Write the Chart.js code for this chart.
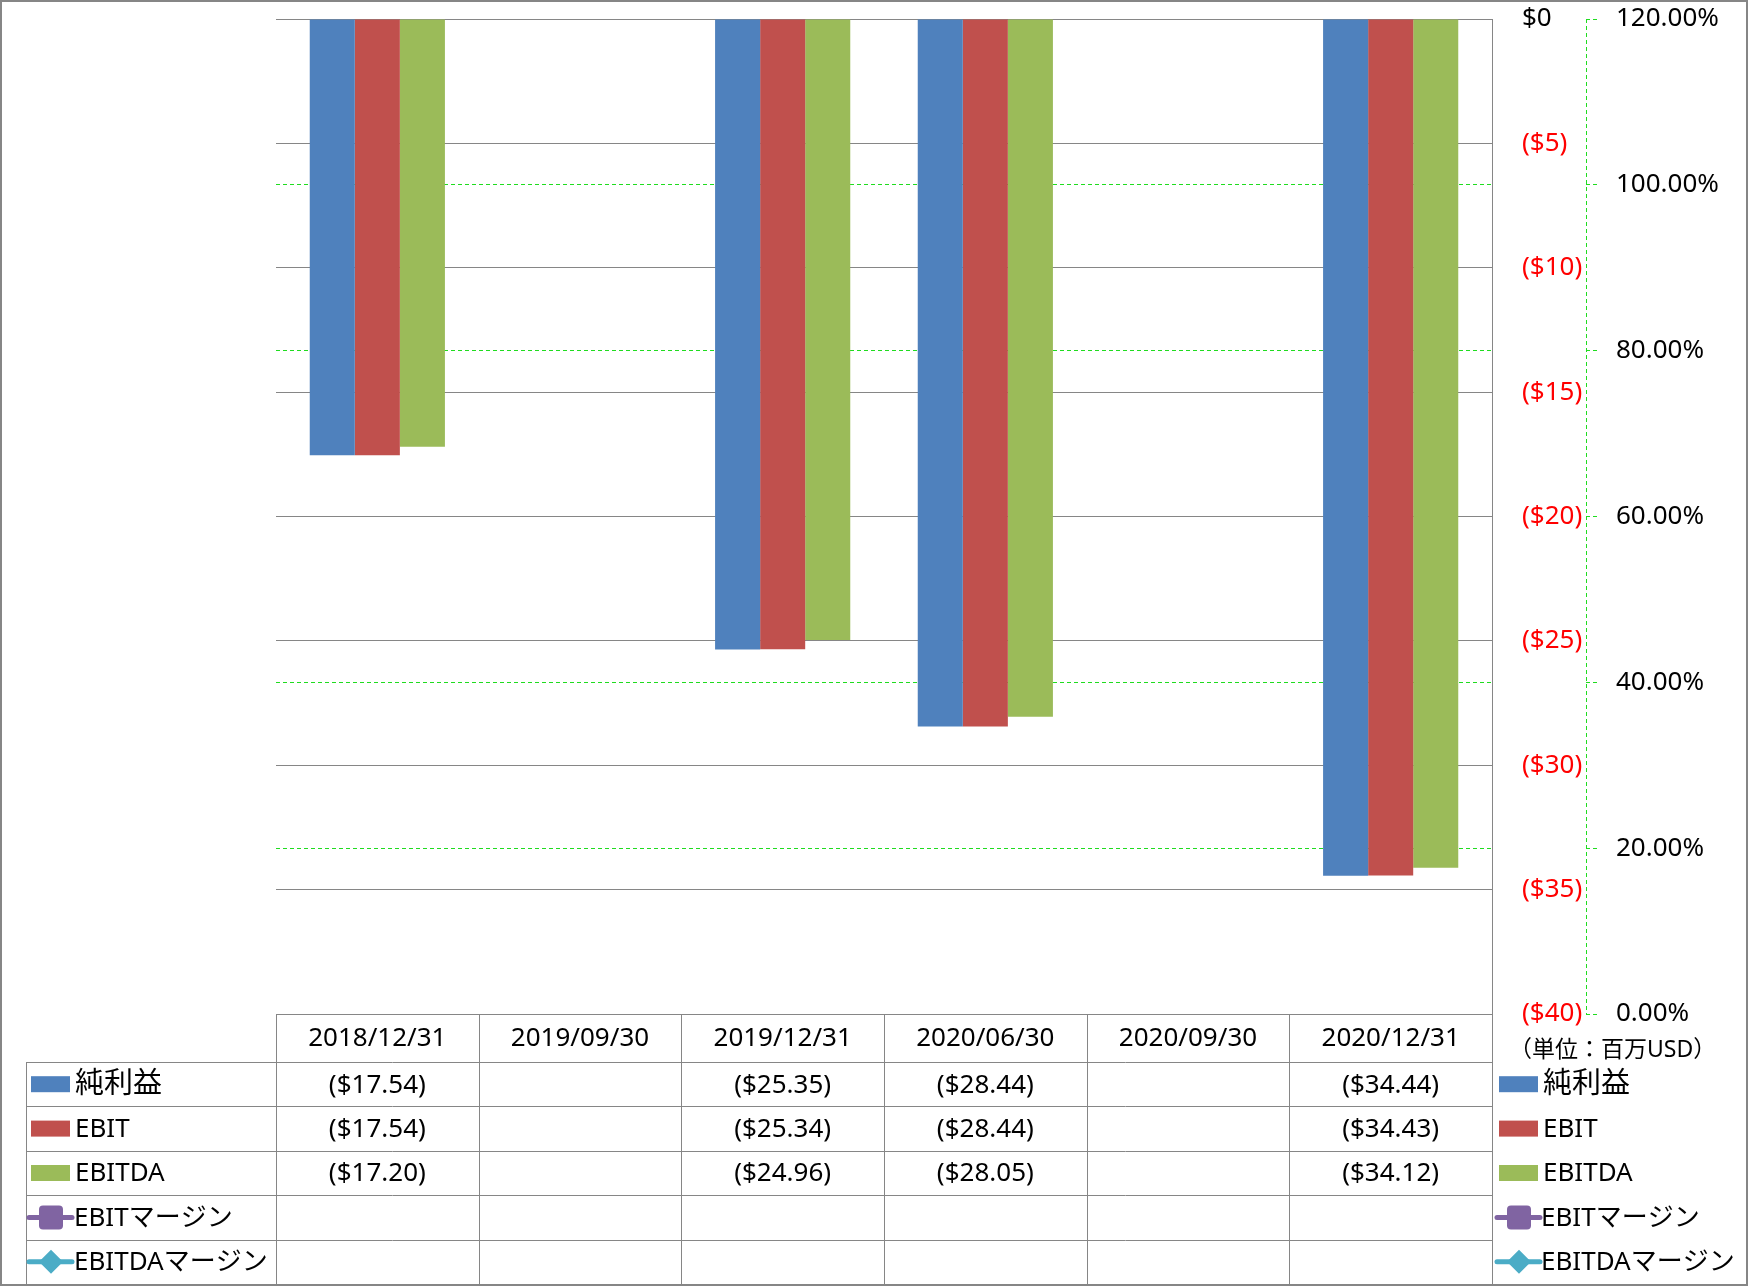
<!DOCTYPE html>
<html>
<head>
<meta charset="utf-8">
<title>純利益 / EBIT / EBITDA</title>
<script src="https://cdn.jsdelivr.net/npm/chart.js@4.4.0/dist/chart.umd.min.js"></script>
<style>
  html, body { margin: 0; padding: 0; background: #fff; }
  canvas { display: block; }
</style>
</head>
<body>
<canvas id="chart" width="1748" height="1286"></canvas>
<script>
// データ（単位：百万USD）
const periods = ['2018/12/31', '2019/09/30', '2019/12/31', '2020/06/30', '2020/09/30', '2020/12/31'];
const netIncome = [-17.54, null, -25.35, -28.44, null, -34.44];
const ebit = [-17.54, null, -25.34, -28.44, null, -34.43];
const ebitda = [-17.20, null, -24.96, -28.05, null, -34.12];
const ebitMargin = [null, null, null, null, null, null];
const ebitdaMargin = [null, null, null, null, null, null];
const seriesNames = ['純利益', 'EBIT', 'EBITDA', 'EBITマージン', 'EBITDAマージン'];
const unitLabel = '（単位：百万USD）';

const FONT = "'Noto Sans', 'Noto Sans CJK JP', sans-serif";
const GRID_GREY = '#868686';
const GREEN = '#1fdc1f';

Chart.defaults.font.family = FONT;
Chart.defaults.font.size = 26;
Chart.defaults.color = '#000';

const fmtUsd = v => {
  if (v === null || v === undefined) return '';
  return v < 0 ? '($' + Math.abs(v).toFixed(2) + ')' : '$' + v.toFixed(2);
};

// 凡例マーカー
function drawKey(ctx, ds, x0, yc) {
  ctx.save();
  if (ds.type === 'line') {
    ctx.strokeStyle = ds.borderColor;
    ctx.lineWidth = 5;
    ctx.lineCap = 'round';
    ctx.beginPath();
    ctx.moveTo(x0 - 2, yc);
    ctx.lineTo(x0 + 41, yc);
    ctx.stroke();
    ctx.fillStyle = ds.backgroundColor;
    const cx = x0 + 20;
    if (ds.pointStyle === 'rectRounded') {
      ctx.beginPath();
      ctx.roundRect(cx - 12, yc - 12, 24, 24, 4);
      ctx.fill();
    } else {
      ctx.beginPath();
      ctx.moveTo(cx, yc - 12);
      ctx.lineTo(cx + 12, yc);
      ctx.lineTo(cx, yc + 12);
      ctx.lineTo(cx - 12, yc);
      ctx.closePath();
      ctx.fill();
    }
  } else {
    ctx.fillStyle = ds.backgroundColor;
    ctx.fillRect(x0, yc - 8, 39, 16);
  }
  ctx.restore();
}

// 漢字だけのラベルは少し大きく
const labelFont = s => (/^[\u3000-\u9fff]+$/.test(s) ? '29px ' : '26px ') + FONT;

const tablePlugin = {
  id: 'dataTable',
  beforeDraw(chart) {
    const ctx = chart.ctx;
    ctx.save();
    ctx.fillStyle = '#fff';
    ctx.fillRect(0, 0, chart.width, chart.height);
    ctx.restore();
  },
  afterDraw(chart) {
    const ctx = chart.ctx;
    const xs = chart.scales.x;
    const y2 = chart.scales.y2;
    const area = chart.chartArea;
    const half = (xs.getPixelForValue(1) - xs.getPixelForValue(0)) / 2;
    const top = area.bottom;
    const headerH = 48;
    const rowH = 44.4;
    const nRows = chart.data.datasets.length;
    const legendLeft = 26;
    const bottom = top + headerH + rowH * nRows;

    ctx.save();
    // 第2軸の破線
    ctx.strokeStyle = GREEN;
    ctx.lineWidth = 1;
    ctx.setLineDash([4, 3]);
    ctx.beginPath();
    ctx.moveTo(Math.round(y2.left) + 0.5, y2.top);
    ctx.lineTo(Math.round(y2.left) + 0.5, y2.bottom);
    ctx.stroke();
    ctx.setLineDash([]);

    // 表の罫線
    ctx.strokeStyle = GRID_GREY;
    ctx.lineWidth = 1;
    ctx.beginPath();
    ctx.moveTo(xs.left, Math.round(top) + 0.5);
    ctx.lineTo(xs.right, Math.round(top) + 0.5);
    for (let r = 0; r < nRows; r++) {
      const y = Math.round(top + headerH + rowH * r) + 0.5;
      ctx.moveTo(legendLeft, y);
      ctx.lineTo(xs.right, y);
    }
    for (let i = 0; i <= periods.length; i++) {
      const x = Math.round(xs.getPixelForValue(0) - half + 2 * half * i) + 0.5;
      ctx.moveTo(x, top);
      ctx.lineTo(x, bottom);
    }
    ctx.moveTo(legendLeft + 0.5, top + headerH);
    ctx.lineTo(legendLeft + 0.5, bottom);
    ctx.stroke();

    // 見出し（日付）
    ctx.fillStyle = '#000';
    ctx.font = '26px ' + FONT;
    ctx.textAlign = 'center';
    ctx.textBaseline = 'middle';
    chart.data.labels.forEach((lab, i) => {
      ctx.fillText(lab, xs.getPixelForValue(i), top + headerH / 2 + 1);
    });

    // 各行
    chart.data.datasets.forEach((ds, r) => {
      const yc = top + headerH + rowH * r + rowH / 2;
      ctx.font = '26px ' + FONT;
      ctx.textAlign = 'center';
      ds.data.forEach((v, i) => {
        ctx.fillText(fmtUsd(v), xs.getPixelForValue(i), yc + 1);
      });
      drawKey(ctx, ds, 31, yc);
      ctx.textAlign = 'left';
      ctx.fillStyle = '#000';
      ctx.font = labelFont(ds.label);
      ctx.fillText(ds.label, ds.type === 'line' ? 74 : 75, yc + 1);

      // 右側の凡例
      drawKey(ctx, ds, 1499, yc);
      ctx.fillText(ds.label, ds.type === 'line' ? 1541 : 1543, yc + 1);
    });

    // 単位
    ctx.font = '23px ' + FONT;
    ctx.textAlign = 'left';
    ctx.fillText(unitLabel, 1509, top + 36);

    // 外枠
    ctx.strokeStyle = GRID_GREY;
    ctx.lineWidth = 2;
    ctx.strokeRect(1, 1, chart.width - 2, chart.height - 2);
    ctx.restore();
  }
};

new Chart(document.getElementById('chart').getContext('2d'), {
  type: 'bar',
  data: {
    labels: periods,
    datasets: [
      { label: seriesNames[0], data: netIncome, backgroundColor: '#4F81BD', yAxisID: 'y' },
      { label: seriesNames[1], data: ebit, backgroundColor: '#C0504D', yAxisID: 'y' },
      { label: seriesNames[2], data: ebitda, backgroundColor: '#9BBB59', yAxisID: 'y' },
      { type: 'line', label: seriesNames[3], data: ebitMargin, borderColor: '#8064A2', backgroundColor: '#8064A2',
        pointStyle: 'rectRounded', borderWidth: 4, yAxisID: 'y2' },
      { type: 'line', label: seriesNames[4], data: ebitdaMargin, borderColor: '#4BACC6', backgroundColor: '#4BACC6',
        pointStyle: 'rectRot', borderWidth: 4, yAxisID: 'y2' }
    ]
  },
  options: {
    responsive: false,
    animation: false,
    devicePixelRatio: 1,
    layout: { padding: { top: 19, left: 276, right: 0, bottom: 0 } },
    datasets: { bar: { categoryPercentage: 0.667, barPercentage: 1.0 } },
    plugins: { legend: { display: false }, tooltip: { enabled: false } },
    scales: {
      x: {
        position: 'bottom',
        grid: { display: false },
        border: { display: false },
        ticks: { display: false },
        afterFit: s => { s.height = 272; }
      },
      y: {
        position: 'right',
        weight: 0,
        min: -40,
        max: 0,
        ticks: {
          stepSize: 5,
          padding: 30,
          font: { size: 26 },
          color: c => (c.tick.value < 0 ? '#ff0000' : '#000'),
          callback: v => (v < 0 ? '($' + Math.abs(v) + ')' : '$' + v)
        },
        grid: { color: GRID_GREY, lineWidth: 1, drawTicks: false, z: -1 },
        border: { display: true, color: GRID_GREY, width: 1 },
        afterFit: s => { s.width = 94; s.paddingTop = 0; s.paddingBottom = 0; }
      },
      y2: {
        position: 'right',
        weight: 1,
        min: 0,
        max: 120,
        ticks: {
          stepSize: 20,
          padding: 19,
          font: { size: 26 },
          callback: v => v.toFixed(2) + '%'
        },
        grid: {
          z: -2,
          color: c => (c.tick && (c.tick.value === 0 || c.tick.value === 120) ? 'rgba(0,0,0,0)' : GREEN),
          lineWidth: 1,
          drawTicks: true,
          tickLength: 11,
          tickColor: GREEN,
          tickBorderDash: [4, 3]
        },
        border: { display: false, dash: [4, 3] },
        afterFit: s => { s.width = 162; s.paddingTop = 0; s.paddingBottom = 0; }
      }
    }
  },
  plugins: [tablePlugin]
});
</script>
</body>
</html>
